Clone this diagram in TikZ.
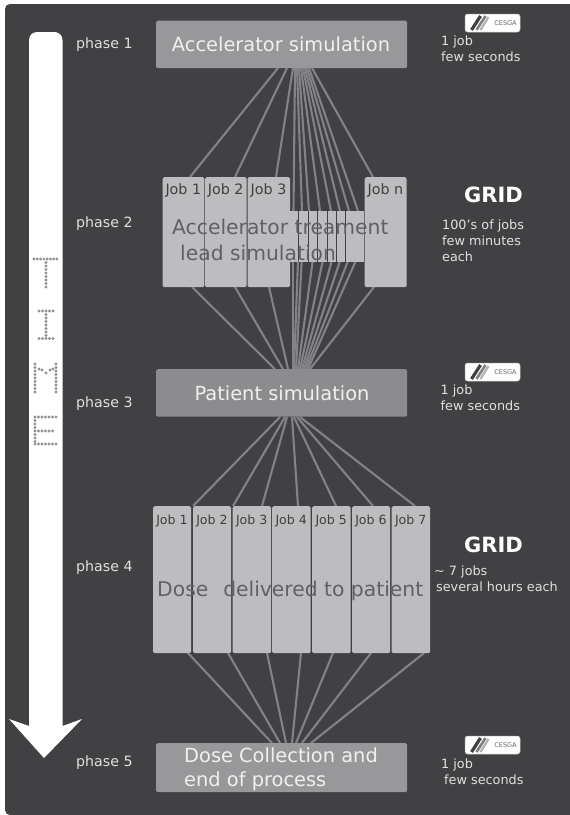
\documentclass[tikz,border=0pt]{standalone}
\usepackage{fontspec}
\setmainfont{DejaVu Sans}
\usetikzlibrary{positioning}
\usetikzlibrary{calc}
\definecolor{panelgray}{HTML}{414143}
\definecolor{linkgray}{HTML}{838385}
\definecolor{jobgray}{HTML}{BDBDC0}
\definecolor{phasegray}{HTML}{98989A}
\definecolor{dotgray}{HTML}{929296}
\definecolor{bigtext}{HTML}{616164}
\begin{document}
\begin{tikzpicture}[x=1pt,y=-1pt,
			link/.style={draw=linkgray, line width=2.1pt},
			phasebox/.style={fill=phasegray, rounded corners=1.5pt, anchor=north west, minimum width=251pt, minimum height=47.5pt, inner sep=0pt},
			jobbox/.style={fill=jobgray, rounded corners=1.5pt, anchor=north west, inner sep=0pt},
			striptbox/.style={fill=jobgray, anchor=north west, inner sep=0pt, minimum width=8.4pt, minimum height=51pt},
			joblabel/.style={text=black!75, font=\fontsize{14.3}{16}\selectfont, inner sep=0pt},
			phaselabel/.style={text=white!88!black, font=\fontsize{14.2}{16}\selectfont, anchor=west, inner sep=0pt},
			infotext/.style={text=white!88!black, font=\fontsize{12.8}{15.7}\selectfont, anchor=north west, align=left, inner sep=0pt},
			gridlabel/.style={text=white, font=\fontsize{21}{24}\bfseries\selectfont, inner sep=0pt},
			whitetitle/.style={text=white!94!black, font=\fontsize{19.4}{24.5}\selectfont, inner sep=0pt, align=left},
			graytitle/.style={text=bigtext, font=\fontsize{20.3}{26}\selectfont, inner sep=0pt, align=left},
			cesga/.pic={
				\node[fill=white, draw=white!75!black, line width=.5pt, rounded corners=2.5pt, minimum width=55pt, minimum height=18pt, inner sep=0pt] (logo) at (0,0) {};
				\draw[black!75, line width=3.2pt] (-21,7) -- (-12,-7);
				\draw[black!50, line width=2.6pt] (-16,7) -- (-7,-7);
				\draw[black!30, line width=2.2pt] (-12,7) -- (-4,-6);
				\node[text=black!60, font=\fontsize{6.5}{7}\selectfont, inner sep=0pt] (logotext) at (13,0) {CESGA};
			}
		]
			\useasboundingbox (0,0) rectangle (570,815);
			\fill[white] (0,0) rectangle (570,815);
			\fill[panelgray] (570,4) [rounded corners=5pt] -- (5,4) -- (5,815) [sharp corners] -- (570,815) -- cycle;

			% time arrow
			\fill[white] (29,726) [rounded corners=8pt] -- (29,32) -- (62.5,32) [sharp corners] -- (62.5,726) -- (82,719) -- (44,758) -- (9,719) -- cycle;
			\foreach \x/\y in {34/259,37.3/259,40.6/259,43.9/259,47.2/259,50.5/259,53.8/259,57/259,46/262.5,46/266,46/269.5,46/273,46/276.5,46/280,46/283.5,46/287,
				39/311,42.5/311,46/311,49.5/311,53/311,46/314.5,46/318,46/321.5,46/325,46/328.5,46/332,46/335.5,39/338.5,42.5/338.5,46/338.5,49.5/338.5,53/338.5,
				35/364,35/367.5,35/371,35/374.5,35/378,35/381.5,35/385,35/388.5,35/392,56/364,56/367.5,56/371,56/374.5,56/378,56/381.5,56/385,56/388.5,56/392,39/369,42/370,46/373,50/370,53/369,
				35/417,35/420.5,35/424,35/427.5,35/431,35/434.5,35/438,35/441.5,35/444,38.5/417,42/417,45.5/417,49/417,52.5/417,56/417,38.5/431,42/431,45.5/431,49/431,52.5/431,38.5/444,42/444,45.5/444,49/444,52.5/444,56/444}
				\fill[dotgray] (\x,\y) circle (1.6pt);

			% free ends of the connectors
			\foreach \i/\x/\ex in {1/278/190,2/287/235,3/293/276,4/295/293.5,5/297/302,6/299/309,7/301/320,8/303/331,9/305/340,10/307/349,11/309/358,12/312/373}{
				\coordinate (acc\i) at (\x,68);
				\coordinate (lead\i) at (\ex,\ifnum\i<4 177\else\ifnum\i=12 177\else 211\fi\fi);
			}
			\foreach \i/\x/\ex in {1/192/275,2/235/283,3/269/288,4/292.7/292.7,5/298/294,6/301.7/296,7/312.7/298,8/322.7/300,9/331.7/302,10/340/304,11/348/306,12/355.7/308,13/374/310}{
				\coordinate (leadout\i) at (\x,\ifnum\i<4 287\else\ifnum\i=13 287\else 261\fi\fi);
				\coordinate (pat\i) at (\ex,369);
			}
			\foreach \i/\x/\ex in {1/280/193,2/285/233,3/287/262,4/292/298,5/294/336,6/297/373,7/300/415}{
				\coordinate (patout\i) at (\x,417);
				\coordinate (dose\i) at (\ex,506);
			}
			\foreach \i/\x/\ex in {1/188/272,2/228/280,3/267/286,4/301/292,5/333/296,6/371/302,7/424/311}{
				\coordinate (doseout\i) at (\x,653);
				\coordinate (end\i) at (\ex,743);
			}
			\foreach \i in {1,...,12} \draw[link] (acc\i) -- (lead\i);
			\foreach \i in {1,...,13} \draw[link] (leadout\i) -- (pat\i);
			\foreach \i in {1,...,7} {
				\draw[link] (patout\i) -- (dose\i);
				\draw[link] (doseout\i) -- (end\i);
			}

			% phase 1
			\node[phasebox] (acc) at (156,20.5) {};
			\node[whitetitle] (acctext) at (281,44) {Accelerator simulation};
			\node[phaselabel] (ph1) at (76,44.5) {phase 1};
			\pic at (492.5,23) {cesga};
			\node[infotext] (info1) at (441,36) {1 job\\few seconds};

			% phase 2
			\foreach \i/\x/\w in {1/162.5/41.7,2/205/41.5,3/247.3/42.5,n/364.4/42}{
				\node[jobbox, minimum width=\w pt, minimum height=110pt] (lead\i box) at (\x,177) {};
				\node[joblabel] (lead\i lab) at ($(\x,190)+(.5*\w,0)$) {Job \i};
			}
			\foreach \i/\x in {1/289.8,2/299.2,3/308.6,4/318,5/327.3,6/336.6,7/345.9,8/355.2}
				\node[striptbox] (strip\i) at (\x,211) {};
			\node[graytitle, anchor=west] (leadtext1) at (172,227) {Accelerator treament};
			\node[graytitle, anchor=west] (leadtext2) at (180,253) {lead simulation};
			\node[phaselabel] (ph2) at (76,223.5) {phase 2};
			\node[gridlabel] (grid2) at (493.5,195) {GRID};
			\node[infotext] (info2) at (442,220) {100's of jobs\\few minutes\\each};

			% phase 3
			\node[phasebox, fill=phasegray!92!black] (pat) at (156,369) {};
			\node[whitetitle] (pattext) at (282,393) {Patient simulation};
			\node[phaselabel] (ph3) at (76,403.5) {phase 3};
			\pic at (492.5,372) {cesga};
			\node[infotext] (info3) at (440.5,385) {1 job\\few seconds};

			% phase 4
			\foreach \i/\x/\w in {1/153/38,2/193/38,3/232.5/38.5,4/272/38.5,5/312/38.5,6/352/38,7/391.5/38.5}{
				\node[jobbox, minimum width=\w pt, minimum height=147pt] (dose\i box) at (\x,506) {};
				\node[joblabel, font=\fontsize{12.6}{14}\selectfont] (dose\i lab) at ($(\x,521)+(.5*\w,0)$) {Job \i};
			}
			\node[graytitle, anchor=west] (dosetext) at (157,591) {Dose\hspace{8.5pt} delivered to patient};
			\node[phaselabel] (ph4) at (76,567.5) {phase 4};
			\node[gridlabel] (grid4) at (493.5,545) {GRID};
			\node[infotext] (info4) at (434,566) {\textasciitilde{} 7 jobs\\\hspace{2pt}several hours each};

			% phase 5
			\node[phasebox, minimum height=49pt] (end) at (156,743) {};
			\node[whitetitle, anchor=west] (endtext) at (184,769) {Dose Collection and\\end of process};
			\node[phaselabel] (ph5) at (76,762.5) {phase 5};
			\pic at (492.5,745) {cesga};
			\node[infotext] (info5) at (441,759) {1 job\\\hspace{3pt}few seconds};
		\end{tikzpicture}
\end{document}
